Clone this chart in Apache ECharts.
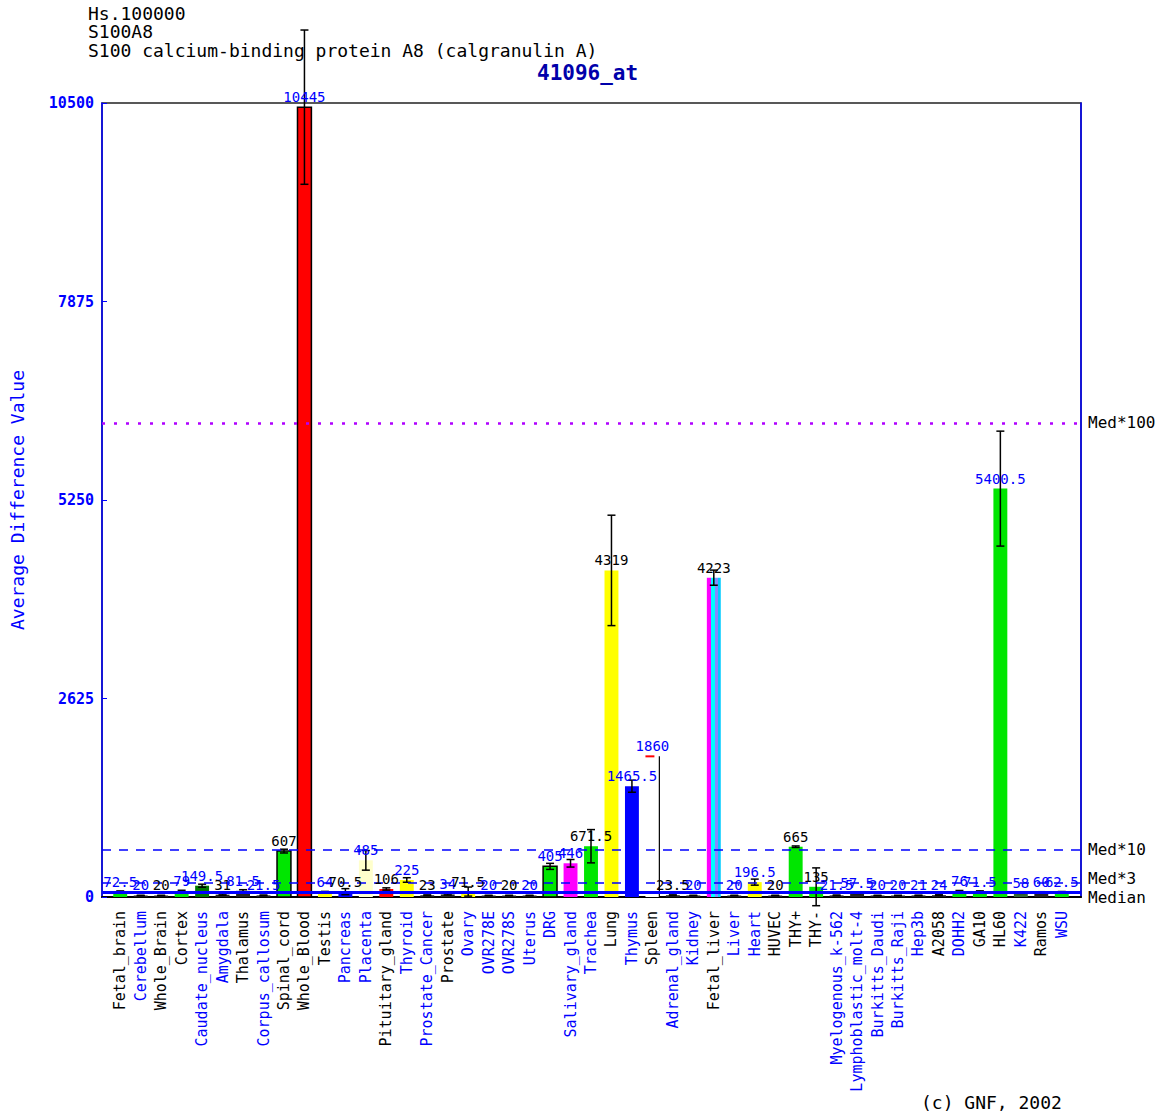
<!DOCTYPE html>
<html>
<head>
<meta charset="utf-8">
<script src="https://cdn.jsdelivr.net/npm/echarts@6/dist/echarts.min.js"></script>
<style>
html,body{margin:0;padding:0;background:#fff;}
#chart{width:1166px;height:1116px;}
</style>
</head>
<body>
<div id="chart"></div>
<script>
const categories = ["Fetal_brain","Cerebellum","Whole_Brain","Cortex","Caudate_nucleus","Amygdala","Thalamus","Corpus_callosum","Spinal_cord","Whole_Blood","Testis","Pancreas","Placenta","Pituitary_gland","Thyroid","Prostate_Cancer","Prostate","Ovary","OVR278E","OVR278S","Uterus","DRG","Salivary_gland","Trachea","Lung","Thymus","Spleen","Adrenal_gland","Kidney","Fetal_liver","Liver","Heart","HUVEC","THY+","THY-","Myelogenous_k-562","Lymphoblastic_molt-4","Burkitts_Daudi","Burkitts_Raji","Hep3b","A2058","DOHH2","GA10","HL60","K422","Ramos","WSU"];
const values = [72.5,20,20,79,149.5,31,81.5,21.5,607,10445,64,70.5,485,106,225,23,34,71.5,20,20,20,405,446,671.5,4319,1465.5,1860,23.5,20,4223,20,196.5,20,665,135,21.5,57.5,20,20,21,24,76,71.5,5400.5,58,60,62.5];
const errors = [8,3,3,10,20,8,15,5,25,1020,10,40,130,15,30,5,8,60,3,3,3,40,50,220,730,80,0,5,3,100,3,40,3,10,250,5,10,3,3,3,5,10,10,760,10,10,10];
const valueLabels = ["72.5","20","20","79","149.5","31","81.5","21.5","607","10445","64","70.5","485","106","225","23","34","71.5","20","20","20","405","446","671.5","4319","1465.5","1860","23.5","20","4223","20","196.5","20","665","135","21.5","57.5","20","20","21","24","76","71.5","5400.5","58","60","62.5"];
const yTicks = [0, 2625, 5250, 7875, 10500];
const median = 62.7;
const medianLines = [
  {name: "Med*100", factor: 100},
  {name: "Med*10", factor: 10},
  {name: "Med*3", factor: 3},
  {name: "Median", factor: 1}
];
const headerLines = ["Hs.100000", "S100A8", "S100 calcium-binding protein A8 (calgranulin A)"];
const probeId = "41096_at";
const credit = "(c) GNF, 2002";
const yAxisTitle = "Average Difference Value";

// styles (kept separate from the data)
const G = '#00e600', Y = '#ffff00', R = '#ff0000', B = '#0000ff', M = '#ff00ff', D = '#222222';
const barColors = [G,D,D,G,'#007700',D,D,D,G,R,Y,B,'#ffffcc',R,Y,D,D,Y,D,D,D,G,M,G,Y,B,'#ffffff',D,D,'FL',D,Y,D,G,G,D,D,D,D,D,D,G,G,G,'#336633',D,G];
const outlined = {"Spinal_cord":1,"Whole_Blood":1,"DRG":1};
const catLabelColors = ['#000','#00f','#000','#000','#00f','#00f','#000','#00f','#000','#000','#000','#00f','#00f','#000','#00f','#00f','#000','#00f','#00f','#00f','#00f','#00f','#00f','#00f','#000','#00f','#000','#00f','#00f','#000','#00f','#00f','#000','#000','#000','#00f','#00f','#00f','#00f','#00f','#000','#00f','#000','#000','#00f','#000','#00f'];
const valLabelColors = ['#00f','#00f','#000','#00f','#00f','#000','#00f','#00f','#000','#00f','#00f','#000','#00f','#000','#00f','#000','#00f','#000','#00f','#000','#00f','#00f','#00f','#000','#000','#00f','#00f','#000','#00f','#000','#00f','#00f','#000','#000','#000','#00f','#00f','#00f','#00f','#00f','#00f','#00f','#00f','#00f','#00f','#00f','#00f'];

const MONO = '"DejaVu Sans Mono", "Liberation Mono", monospace';

const chart = echarts.init(document.getElementById('chart'), null, {renderer: 'svg', width: 1166, height: 1116});

const fetalLiverFill = new echarts.graphic.LinearGradient(0, 0, 1, 0, [
  {offset: 0, color: '#ff00ff'}, {offset: 0.3, color: '#ff00ff'},
  {offset: 0.3, color: '#00ffff'}, {offset: 0.6, color: '#00ffff'},
  {offset: 0.6, color: '#8888ff'}, {offset: 0.8, color: '#8888ff'},
  {offset: 0.8, color: '#00ccff'}, {offset: 1, color: '#00ccff'}
]);

function renderBar(params, api) {
  const i = api.value(0), v = api.value(1), e = api.value(2);
  const base = api.coord([i, 0]);
  const top = api.coord([i, v]);
  const bw = api.size([1, 0])[0] * 0.68;
  const cx = base[0];
  const col = barColors[i];
  const children = [];
  const fill = col === 'FL' ? fetalLiverFill : col;
  children.push({
    type: 'rect',
    shape: {x: cx - bw / 2, y: top[1], width: bw, height: base[1] - top[1]},
    style: {fill: fill, stroke: outlined[categories[i]] ? '#000' : null, lineWidth: 1.5}
  });
  if (col === '#ffffff') {
    children.push({type: 'line', shape: {x1: cx + bw / 2, y1: top[1], x2: cx + bw / 2, y2: base[1]}, style: {stroke: '#000', lineWidth: 1.2}});
    children.push({type: 'line', shape: {x1: cx - bw / 2, y1: top[1], x2: cx + 2, y2: top[1]}, style: {stroke: '#ff0000', lineWidth: 2}});
  }
  if (e > 0) {
    const hi = api.coord([i, v + e]);
    const lo = api.coord([i, v - e]);
    children.push({type: 'line', shape: {x1: cx, y1: hi[1], x2: cx, y2: lo[1]}, style: {stroke: '#000', lineWidth: 1.5}});
    children.push({type: 'line', shape: {x1: cx - 4, y1: hi[1], x2: cx + 4, y2: hi[1]}, style: {stroke: '#000', lineWidth: 1.5}});
    children.push({type: 'line', shape: {x1: cx - 4, y1: lo[1], x2: cx + 4, y2: lo[1]}, style: {stroke: '#000', lineWidth: 1.5}});
  }
  return {type: 'group', children: children};
}

function renderLabel(params, api) {
  const i = api.value(0), v = api.value(1);
  const top = api.coord([i, v]);
  return {
    type: 'text',
    style: {
      x: top[0], y: top[1] - 3, text: valueLabels[i],
      align: 'center', verticalAlign: 'bottom',
      fill: valLabelColors[i], font: '14px ' + MONO
    }
  };
}

const seriesData = values.map((v, i) => [i, v, errors[i]]);

const option = {
  backgroundColor: '#ffffff',
  animation: false,
  grid: [
    {left: 100, top: 103, width: 981, height: 794, show: true, borderColor: '#222', borderWidth: 1.5, backgroundColor: 'transparent'},
    {left: 110, top: 103, width: 962, height: 794, show: false}
  ],
  xAxis: [
    {gridIndex: 0, type: 'value', min: 0, max: 1, show: true,
     axisLine: {show: true, lineStyle: {color: '#000', width: 2}}, axisTick: {show: false}, axisLabel: {show: false}, splitLine: {show: false}},
    {gridIndex: 1, type: 'category', data: categories, boundaryGap: true,
     axisLine: {show: false}, axisTick: {show: false}, splitLine: {show: false},
     axisLabel: {interval: 0, rotate: 90, margin: 14, fontFamily: MONO, fontSize: 15,
       color: function (val, idx) { return catLabelColors[categories.indexOf(val)]; }}}
  ],
  yAxis: [
    {gridIndex: 0, type: 'value', min: 0, max: 10500, interval: 2625,
     name: yAxisTitle, nameLocation: 'middle', nameGap: 76,
     nameTextStyle: {color: '#0000ff', fontFamily: MONO, fontSize: 18},
     axisLine: {show: true, lineStyle: {color: '#0000ff', width: 1.5}},
     axisTick: {show: true, inside: true, length: 5, lineStyle: {color: '#0000ff'}},
     axisLabel: {color: '#0000ff', fontFamily: MONO, fontSize: 15, fontWeight: 'bold', margin: 8,
       formatter: function (v) { return yTicks.indexOf(v) >= 0 ? String(v) : ''; }},
     splitLine: {show: false}},
    {gridIndex: 0, type: 'value', min: 0, max: 10500, position: 'right',
     axisLine: {show: true, lineStyle: {color: '#0000ff', width: 1.5}},
     axisTick: {show: false}, axisLabel: {show: false}, splitLine: {show: false}},
    {gridIndex: 1, type: 'value', min: 0, max: 10500, show: false}
  ],
  graphic: [
    {type: 'text', left: 88, top: 4, style: {text: headerLines.join('\n'), font: '18px ' + MONO, fill: '#000', lineHeight: 18.5}},
    {type: 'text', left: 537, top: 62, style: {text: probeId, font: 'bold 21px ' + MONO, fill: '#0000aa'}},
    {type: 'text', left: 921, top: 1093, style: {text: credit, font: '18px ' + MONO, fill: '#000'}}
  ],
  series: [
    {
      type: 'line', xAxisIndex: 0, yAxisIndex: 0, data: [[0.5, 0]], symbol: 'none',
      lineStyle: {opacity: 0}, silent: true, z: 5,
      markLine: {
        silent: true, symbol: 'none', animation: false,
        data: medianLines.map(function (m) {
          const style = m.factor === 100 ? {type: [3, 9], color: '#b000ff', width: 2.5}
            : m.factor === 1 ? {type: 'solid', color: '#0000ff', width: 3}
            : {type: [9, 8], color: '#0000ff', width: 1.5};
          const off = m.factor === 3 ? [0, -4] : (m.factor === 1 ? [0, 5] : [0, 0]);
          return {name: m.name, yAxis: median * m.factor, lineStyle: style,
            label: {show: true, position: 'end', distance: 7, offset: off, formatter: '{b}', color: '#000', fontFamily: MONO, fontSize: 16}};
        })
      }
    },
    {
      type: 'custom', xAxisIndex: 1, yAxisIndex: 2, data: seriesData,
      renderItem: renderBar, clip: false, z: 3
    },
    {
      type: 'custom', xAxisIndex: 1, yAxisIndex: 2, data: seriesData,
      renderItem: renderLabel, clip: false, z: 6
    }
  ]
};
chart.setOption(option);
</script>
</body>
</html>
